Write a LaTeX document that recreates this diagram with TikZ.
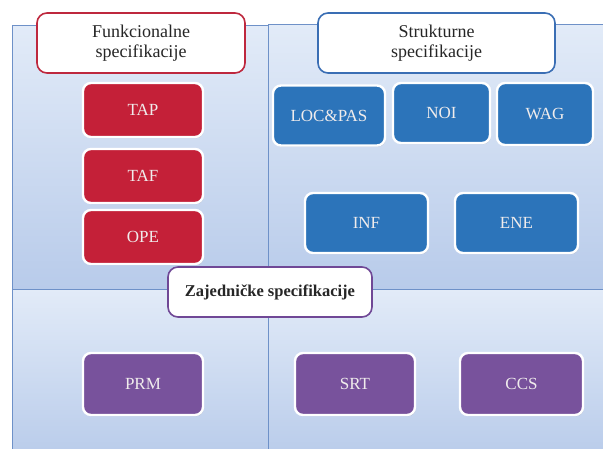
\documentclass[tikz,border=0pt]{standalone}
\usepackage{fontspec}
\setmainfont{Liberation Serif}
\usepackage{tikz}
\usetikzlibrary{positioning,shadows}

\definecolor{panelline}{RGB}{110,145,200}
\definecolor{paneltop}{RGB}{226,235,248}
\definecolor{panelbot}{RGB}{184,203,234}
\definecolor{redbox}{RGB}{196,32,56}
\definecolor{bluebox}{RGB}{44,116,186}
\definecolor{purplebox}{RGB}{120,82,156}
\definecolor{redline}{RGB}{190,40,62}
\definecolor{blueline}{RGB}{58,110,180}
\definecolor{purpleline}{RGB}{112,72,150}
\definecolor{boxtext}{RGB}{240,236,236}

\tikzset{
  panel/.style={top color=paneltop, bottom color=panelbot, draw=panelline, line width=1pt},
  titlebox/.style={draw=#1, line width=1.6pt, fill=white, rounded corners=10pt,
    align=center, text=black!85, font=\fontsize{18}{20}\selectfont},
  specbox/.style={fill=#1, draw=white, line width=2.4pt, rounded corners=8pt,
    text=boxtext, font=\fontsize{17}{20}\selectfont,
    drop shadow={shadow xshift=0.8pt, shadow yshift=-1.2pt, opacity=0.35}}
}

\begin{document}
\begin{tikzpicture}[x=1pt,y=-1pt]
    \useasboundingbox (0,0) rectangle (603,448);
    \begin{scope}
    \clip (0,0) rectangle (603,448);
    % Background panels
    \shade[panel] (12,25) rectangle (268,289);
    \shade[panel] (268,24) rectangle (620,289);
    \shade[panel] (12,289) rectangle (268,460);
    \shade[panel] (268,289) rectangle (620,460);
    \end{scope}

    % Functional specifications
    \node[titlebox=redline, minimum width=208pt, minimum height=60pt] (fun) at (141,43) {Funkcionalne\\specifikacije};
    \node[specbox=redbox, minimum width=120pt, minimum height=54pt] (tap) at (143,110) {TAP};
    \node[specbox=redbox, minimum width=120pt, minimum height=54pt] (taf) at (143,176) {TAF};
    \node[specbox=redbox, minimum width=120pt, minimum height=54pt] (ope) at (143,237) {OPE};

    % Structural specifications
    \node[titlebox=blueline, minimum width=237pt, minimum height=60pt] (str) at (436.5,43) {Strukturne\\specifikacije};
    \node[specbox=bluebox, minimum width=112pt, minimum height=60pt] (locpas) at (329,115.5) {LOC\&PAS};
    \node[specbox=bluebox, minimum width=97pt, minimum height=60pt] (noi) at (441.5,113) {NOI};
    \node[specbox=bluebox, minimum width=96pt, minimum height=62pt] (wag) at (545,114) {WAG};
    \node[specbox=bluebox, minimum width=123pt, minimum height=60pt] (inf) at (366.5,223) {INF};
    \node[specbox=bluebox, minimum width=123pt, minimum height=60pt] (ene) at (516.5,223) {ENE};

    % Common specifications
    \node[titlebox=purpleline, minimum width=204pt, minimum height=50pt, font=\fontsize{16.5}{20}\selectfont\bfseries] (zaj) at (270,292) {Zajedničke specifikacije};
    \node[specbox=purplebox, minimum width=120pt, minimum height=62pt] (prm) at (143,384) {PRM};
    \node[specbox=purplebox, minimum width=120pt, minimum height=62pt] (srt) at (355,384) {SRT};
    \node[specbox=purplebox, minimum width=123pt, minimum height=62pt] (ccs) at (521.5,384) {CCS};
\end{tikzpicture}
\end{document}
